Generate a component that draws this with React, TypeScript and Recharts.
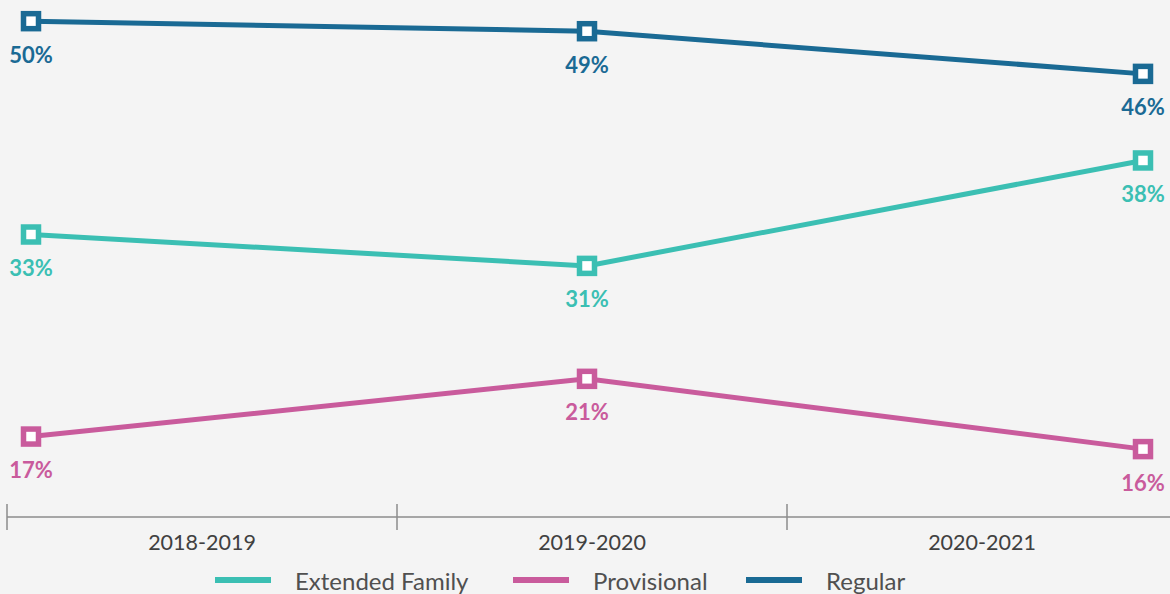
import * as React from 'react';
import { LineChart, Line, XAxis, YAxis, Legend, LabelList } from 'recharts';

const years = ['2018-2019', '2019-2020', '2020-2021'];
const extendedFamily = [32.9, 30.4, 38.8];
const provisional = [16.8, 21.4, 15.8];
const regular = [49.9, 49.1, 45.7];
const extendedLabels = ['33%', '31%', '38%'];
const provisionalLabels = ['17%', '21%', '16%'];
const regularLabels = ['50%', '49%', '46%'];

const series = [
  { key: 'extended', name: 'Extended Family', color: '#3bbfb3', legendW: 298 },
  { key: 'provisional', name: 'Provisional', color: '#c95b9c', legendW: 233 },
  { key: 'regular', name: 'Regular', color: '#1a6a94', legendW: 200 },
];

const data = years.map((year, i) => ({
  year,
  extended: extendedFamily[i],
  provisional: provisional[i],
  regular: regular[i],
  extendedLabel: extendedLabels[i],
  provisionalLabel: provisionalLabels[i],
  regularLabel: regularLabels[i],
}));

const W = 1177;
const H = 594;
const LEFT = 7;
const PLOT_W = W - LEFT;
const BAND = PLOT_W / years.length;
const AXIS = '#8c8c8c';
const FONT = 'Lato, "Open Sans", sans-serif';

function YearTick(props: any) {
  const { x, y, payload, index } = props;
  const left = x - BAND / 2;
  return (
    <g>
      <line x1={left} x2={left} y1={y - 13} y2={y + 13} stroke={AXIS} strokeWidth={1.5} />
      {index === years.length - 1 && (
        <line x1={left + BAND} x2={left + BAND} y1={y - 13} y2={y + 13} stroke={AXIS} strokeWidth={1.5} />
      )}
      <text x={x} y={y + 25} textAnchor="middle" dominantBaseline="central" fill="#404040" fontSize={21.5} fontFamily={FONT}>
        {payload.value}
      </text>
    </g>
  );
}

function squareDot(color: string) {
  return (p: any) => (
    <rect key={`${color}-${p.index}`} x={p.cx - 7.5} y={p.cy - 7.5} width={15} height={15} fill="#ffffff" stroke={color} strokeWidth={5.5} />
  );
}

function pctLabel(color: string) {
  return (p: any) => {
    const x = p.x ?? p.viewBox?.x;
    const y = p.y ?? p.viewBox?.y;
    return (
      <text x={x} y={y + 33} textAnchor="middle" dominantBaseline="central" fill={color} fontSize={22} fontWeight={700} fontFamily={FONT}>
        {p.value}
      </text>
    );
  };
}

function LegendBox() {
  return (
    <div style={{ display: 'flex', alignItems: 'center', height: 28, paddingLeft: 215, fontFamily: FONT }}>
      {series.map((s) => (
        <div key={s.key} style={{ display: 'flex', alignItems: 'center', width: s.legendW, flex: 'none' }}>
          <span style={{ display: 'inline-block', width: 56, height: 6, background: s.color, marginRight: 24 }} />
          <span style={{ fontSize: 24, color: '#505050', whiteSpace: 'nowrap' }}>{s.name}</span>
        </div>
      ))}
    </div>
  );
}

export default function App() {
  return (
    <div style={{ position: 'absolute', left: 0, top: 0, width: 1170, height: H, overflow: 'hidden', background: '#f4f4f4' }}>
      <LineChart width={W} height={H} data={data} margin={{ top: 10, right: 0, bottom: 0, left: LEFT }}>
        <XAxis xAxisId="pts" dataKey="year" type="category" hide padding={{ left: 24, right: 34 }} />
        <XAxis
          xAxisId="cat"
          dataKey="year"
          type="category"
          scale="band"
          interval={0}
          height={49}
          axisLine={{ stroke: AXIS, strokeWidth: 1.5 }}
          tickLine={false}
          tickSize={0}
          tickMargin={0}
          tick={<YearTick />}
        />
        <YAxis hide type="number" domain={[10.39, 50.79]} allowDataOverflow />
        <Legend verticalAlign="bottom" content={<LegendBox />} wrapperStyle={{ left: 0, width: W, height: 28 }} />
        {series.map((s) => (
          <Line
            key={s.key}
            xAxisId="pts"
            dataKey={s.key}
            name={s.name}
            stroke={s.color}
            strokeWidth={5}
            dot={squareDot(s.color)}
            activeDot={false}
            isAnimationActive={false}
          >
            <LabelList dataKey={`${s.key}Label`} content={pctLabel(s.color)} />
          </Line>
        ))}
      </LineChart>
    </div>
  );
}
